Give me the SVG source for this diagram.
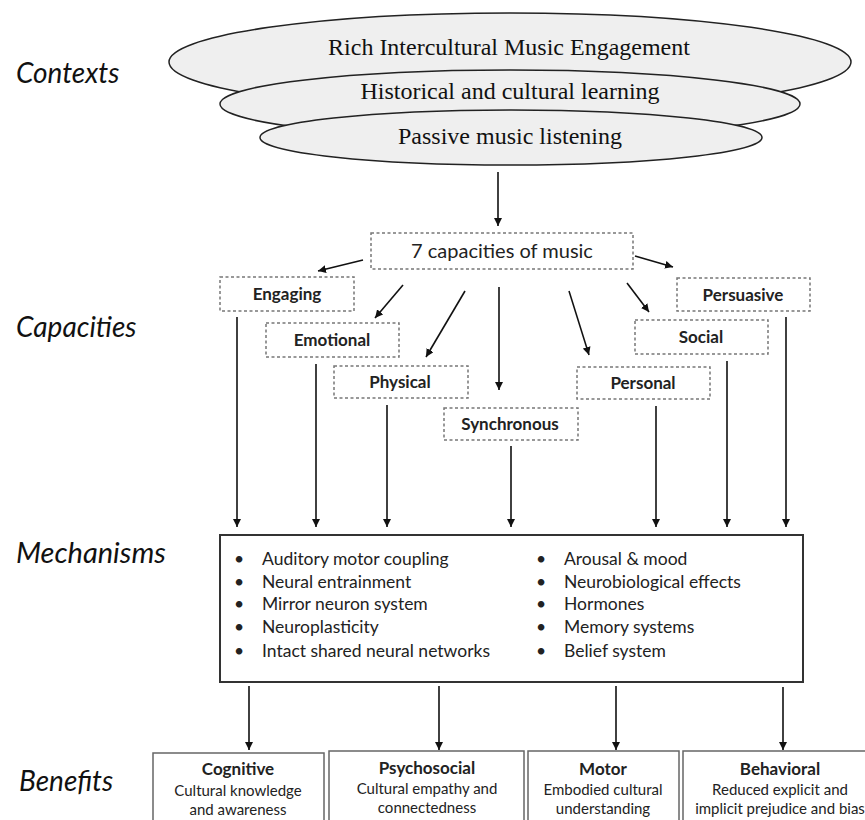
<svg xmlns="http://www.w3.org/2000/svg" width="865" height="820" viewBox="0 0 865 820">
<style>
.lbl{font-family:Lato,"Liberation Sans",sans-serif;font-style:italic;font-size:28px;fill:#111}
.ell{fill:#efefef;stroke:#222;stroke-width:1.5}
.ctx{font-family:"Liberation Serif","Times New Roman",serif;font-size:24px;fill:#111;text-anchor:middle}
.cap{fill:#fff;stroke:#777;stroke-width:1.5;stroke-dasharray:3 2.5}
.capt{font-family:Lato,"Liberation Sans",sans-serif;font-weight:bold;font-size:17px;fill:#222;text-anchor:middle}
.head{font-family:Lato,"Liberation Sans",sans-serif;font-size:20px;fill:#222;text-anchor:middle}
.mech{fill:#fff;stroke:#333;stroke-width:2}
.mt{font-family:Lato,"Liberation Sans",sans-serif;font-size:17.5px;fill:#222}
.ben{fill:#fff;stroke:#666;stroke-width:1.5}
.bt{font-family:Lato,"Liberation Sans",sans-serif;font-weight:bold;font-size:17px;fill:#222;text-anchor:middle}
.bb{font-family:Lato,"Liberation Sans",sans-serif;font-size:15px;fill:#222;text-anchor:middle}
#connectors line{stroke:#111;stroke-width:1.6;marker-end:url(#ah)}
</style>
<defs>
<marker id="ah" viewBox="0 0 10 10" refX="10" refY="5" markerWidth="8" markerHeight="8" markerUnits="userSpaceOnUse" orient="auto">
<path d="M0,0 L10,5 L0,10 z" fill="#111"/>
</marker>
</defs>
<rect width="865" height="820" fill="#fff"/>

<g id="row-labels">
<text class="lbl" x="16" y="83">Contexts</text>
<text class="lbl" x="16" y="337">Capacities</text>
<text class="lbl" x="16" y="563" style="font-size:29px">Mechanisms</text>
<text class="lbl" x="19" y="791">Benefits</text>
</g>

<g id="ctx-rich">
<ellipse class="ell" cx="510" cy="62" rx="341" ry="49"/>
<text class="ctx" x="509" y="55">Rich Intercultural Music Engagement</text>
</g>
<g id="ctx-historical">
<ellipse class="ell" cx="510" cy="104" rx="290" ry="34"/>
<text class="ctx" x="510" y="99">Historical and cultural learning</text>
</g>
<g id="ctx-passive">
<ellipse class="ell" cx="511" cy="137.5" rx="251" ry="27.5"/>
<text class="ctx" x="510" y="144">Passive music listening</text>
</g>

<g id="cap-main">
<rect class="cap" x="371" y="233" width="262" height="36"/>
<text class="head" x="502" y="258">7 capacities of music</text>
</g>
<g id="cap-engaging">
<rect class="cap" x="220" y="277" width="134" height="34"/>
<text class="capt" x="287" y="300">Engaging</text>
</g>
<g id="cap-emotional">
<rect class="cap" x="266" y="323" width="133" height="34"/>
<text class="capt" x="332" y="346">Emotional</text>
</g>
<g id="cap-physical">
<rect class="cap" x="334" y="366" width="134" height="32"/>
<text class="capt" x="400" y="388">Physical</text>
</g>
<g id="cap-synchronous">
<rect class="cap" x="444" y="408" width="134" height="32"/>
<text class="capt" x="510" y="430">Synchronous</text>
</g>
<g id="cap-personal">
<rect class="cap" x="577" y="367" width="133" height="32"/>
<text class="capt" x="643" y="389">Personal</text>
</g>
<g id="cap-social">
<rect class="cap" x="635" y="320" width="133" height="34"/>
<text class="capt" x="701" y="343">Social</text>
</g>
<g id="cap-persuasive">
<rect class="cap" x="677" y="278" width="133" height="33"/>
<text class="capt" x="743" y="301">Persuasive</text>
</g>

<g id="mechanisms">
<rect class="mech" x="220" y="535" width="583" height="147"/>
<g class="mt">
<text x="234" y="565">•</text><text x="262" y="565">Auditory motor coupling</text>
<text x="234" y="588">•</text><text x="262" y="588">Neural entrainment</text>
<text x="234" y="610">•</text><text x="262" y="610">Mirror neuron system</text>
<text x="234" y="633">•</text><text x="262" y="633">Neuroplasticity</text>
<text x="234" y="657">•</text><text x="262" y="657">Intact shared neural networks</text>
<text x="536" y="565">•</text><text x="564" y="565">Arousal &amp; mood</text>
<text x="536" y="588">•</text><text x="564" y="588">Neurobiological effects</text>
<text x="536" y="610">•</text><text x="564" y="610">Hormones</text>
<text x="536" y="633">•</text><text x="564" y="633">Memory systems</text>
<text x="536" y="657">•</text><text x="564" y="657">Belief system</text>
</g>
</g>

<g id="ben-cognitive">
<rect class="ben" x="153" y="753" width="171" height="80"/>
<text class="bt" x="238" y="775">Cognitive</text>
<text class="bb" x="238" y="796">Cultural knowledge</text>
<text class="bb" x="238" y="815">and awareness</text>
</g>
<g id="ben-psychosocial">
<rect class="ben" x="329" y="751" width="195" height="82"/>
<text class="bt" x="427" y="774">Psychosocial</text>
<text class="bb" x="427" y="794">Cultural empathy and</text>
<text class="bb" x="427" y="813">connectedness</text>
</g>
<g id="ben-motor">
<rect class="ben" x="528" y="751" width="151" height="82"/>
<text class="bt" x="603" y="775">Motor</text>
<text class="bb" x="603" y="795">Embodied cultural</text>
<text class="bb" x="603" y="814">understanding</text>
</g>
<g id="ben-behavioral">
<rect class="ben" x="683" y="751" width="194" height="82"/>
<text class="bt" x="780" y="775">Behavioral</text>
<text class="bb" x="780" y="795">Reduced explicit and</text>
<text class="bb" x="780" y="814">implicit prejudice and bias</text>
</g>

<g id="connectors">
<line x1="498" y1="172" x2="498" y2="226"/>
<line x1="363" y1="260" x2="318" y2="271"/>
<line x1="635" y1="256" x2="673" y2="267"/>
<line x1="403" y1="285" x2="375" y2="318"/>
<line x1="465" y1="291" x2="426" y2="357"/>
<line x1="499" y1="287" x2="499" y2="390"/>
<line x1="569" y1="291" x2="589" y2="355"/>
<line x1="627" y1="283" x2="649" y2="312"/>
<line x1="237" y1="317" x2="237" y2="527"/>
<line x1="316" y1="364" x2="316" y2="527"/>
<line x1="387" y1="405" x2="387" y2="527"/>
<line x1="511" y1="446" x2="511" y2="527"/>
<line x1="656" y1="406" x2="656" y2="527"/>
<line x1="727" y1="361" x2="727" y2="527"/>
<line x1="786" y1="317" x2="786" y2="527"/>
<line x1="249" y1="686" x2="249" y2="750"/>
<line x1="439" y1="686" x2="439" y2="750"/>
<line x1="616" y1="686" x2="616" y2="750"/>
<line x1="783" y1="687" x2="783" y2="750"/>
</g>
</svg>
